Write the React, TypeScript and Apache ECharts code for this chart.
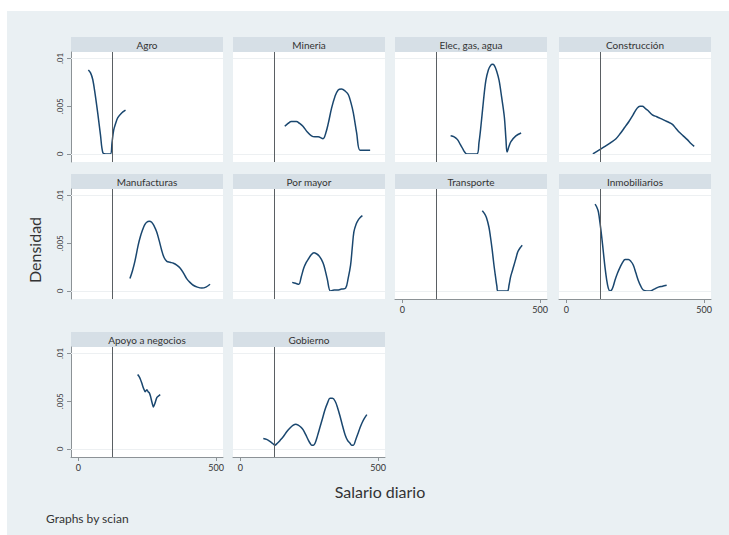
import React, { useEffect, useRef } from 'react';
import * as echarts from 'echarts';

// ---- Data (x = salario diario, y = densidad) ----
const panelNames = [
  'Agro', 'Mineria', 'Elec, gas, agua', 'Construcción',
  'Manufacturas', 'Por mayor', 'Transporte', 'Inmobiliarios',
  'Apoyo a negocios', 'Gobierno',
];

const agro = [[36,0.0088],[44,0.0085],[52,0.0078],[61,0.0062],[70,0.0043],[80,0.0020],[89,0.0001],[100,0],[116,0],[122,0.0012],[128,0.0025],[135,0.0032],[143,0.0038],[157,0.0043],[171,0.0046]];
const mineria = [[161,0.0029],[173,0.0032],[185,0.0034],[203,0.0034],[215,0.0032],[227,0.0029],[243,0.0023],[258,0.0019],[270,0.0018],[282,0.0018],[300,0.0016],[310,0.0022],[319,0.0032],[331,0.0048],[343,0.006],[355,0.0067],[367,0.0068],[380,0.0066],[392,0.0062],[401,0.0054],[410,0.0043],[422,0.0022],[434,0.0004],[450,0.0004],[471,0.0004]];
const elec = [[175,0.0019],[188,0.0018],[200,0.0015],[210,0.001],[218,0.0006],[226,0.0002],[234,0],[270,0],[278,0.0012],[285,0.0029],[294,0.0055],[303,0.0077],[312,0.0088],[321,0.0093],[327,0.0094],[333,0.0093],[342,0.0087],[351,0.0077],[360,0.006],[370,0.0039],[376,0.0015],[380,0.0002],[387,0.0008],[394,0.0013],[412,0.0019],[431,0.0022]];
const construccion = [[96,0],[118,0.0004],[140,0.0008],[161,0.0012],[180,0.0016],[197,0.0022],[212,0.0028],[227,0.0034],[242,0.0041],[257,0.0048],[267,0.005],[276,0.005],[285,0.0048],[294,0.0046],[312,0.0041],[328,0.0039],[343,0.0037],[365,0.0034],[385,0.0031],[397,0.0027],[409,0.0023],[424,0.0019],[439,0.0015],[452,0.0011],[464,0.0008]];
const manufacturas = [[187,0.0013],[196,0.0021],[205,0.0031],[217,0.0048],[225,0.0057],[233,0.0064],[240,0.0069],[248,0.0072],[257,0.0073],[266,0.0072],[275,0.0068],[284,0.0062],[293,0.0053],[302,0.0043],[311,0.0035],[321,0.0031],[333,0.003],[345,0.0029],[357,0.0027],[369,0.0024],[381,0.0019],[393,0.0013],[405,0.0009],[417,0.0006],[432,0.0004],[448,0.0003],[463,0.0004],[478,0.0007]];
const porMayor = [[188,0.0009],[200,0.0008],[212,0.0007],[221,0.0015],[230,0.0024],[239,0.003],[248,0.0034],[257,0.0038],[267,0.004],[276,0.0039],[285,0.0037],[294,0.0033],[303,0.0027],[315,0.0013],[327,0],[340,0.0001],[352,0.0001],[367,0.0002],[382,0.0003],[391,0.0013],[400,0.0027],[406,0.0045],[412,0.0062],[420,0.007],[427,0.0074],[435,0.0077],[443,0.0079]];
const transporte = [[290,0.0084],[298,0.0081],[305,0.0077],[314,0.0067],[320,0.0056],[326,0.0043],[332,0.0028],[338,0.0015],[343,0.0005],[347,0],[381,0],[387,0.0006],[393,0.0015],[399,0.0021],[405,0.0027],[412,0.0034],[419,0.0041],[427,0.0045],[435,0.0048]];
const inmobiliarios = [[104,0.0091],[110,0.0088],[116,0.0083],[122,0.0071],[128,0.0057],[134,0.0041],[140,0.0025],[146,0.0012],[152,0.0003],[158,0],[164,0.0001],[170,0.0005],[176,0.0011],[186,0.0019],[195,0.0025],[204,0.003],[213,0.0033],[225,0.0033],[234,0.0031],[243,0.0027],[252,0.0019],[261,0.0011],[270,0.0005],[279,0.0001],[292,0],[304,0],[319,0.0002],[334,0.0004],[349,0.0005],[364,0.0006]];
const apoyo = [[215,0.0078],[220,0.0076],[225,0.0073],[230,0.0069],[237,0.0063],[242,0.006],[249,0.0062],[253,0.006],[257,0.0059],[262,0.0055],[266,0.005],[272,0.0044],[278,0.0048],[285,0.0054],[297,0.0057]];
const gobierno = [[83,0.0011],[95,0.001],[107,0.0008],[116,0.0006],[125,0.0004],[134,0.0006],[144,0.0009],[156,0.0013],[168,0.0018],[180,0.0022],[192,0.0025],[201,0.0026],[210,0.0025],[219,0.0023],[228,0.002],[237,0.0015],[247,0.0009],[253,0.0006],[259,0.0004],[265,0.0004],[271,0.0006],[280,0.0014],[289,0.0023],[298,0.0032],[307,0.0041],[316,0.0048],[325,0.0053],[334,0.0053],[344,0.005],[353,0.0043],[362,0.0034],[371,0.0024],[380,0.0015],[389,0.0009],[398,0.0006],[404,0.0004],[410,0.0004],[419,0.001],[428,0.0017],[434,0.0022],[441,0.0027],[450,0.0032],[459,0.0036]];

const panelData = [agro, mineria, elec, construccion, manufacturas, porMayor, transporte, inmobiliarios, apoyo, gobierno];

const xTicks = [0, 500];
const yTicks = [0, 0.005, 0.01];
const yTickLabels = ['0', '.005', '.01'];
const minWage = 123.22;

// ---- Layout ----
const colLeft = [71, 233, 395, 559];
const rowTop = [52, 189, 347];
const PW = 152;
const PH = 110;
const STRIP = 15;
const X_MIN = -27, X_MAX = 525;
const Y_MIN = -0.00084, Y_MAX = 0.01068;

const BG = '#eaf0f3';
const STRIP_BG = '#d6dfe6';
const LINE = '#1a476f';
const AXIS = '#8c9296';
const FONT = 'Lato, "Open Sans", "Noto Sans", sans-serif';

function buildOption() {
  const grids: any[] = [];
  const xAxes: any[] = [];
  const yAxes: any[] = [];
  const series: any[] = [];
  const graphics: any[] = [
    { type: 'rect', shape: { x: 0, y: 0, width: 729, height: 11 }, style: { fill: '#ffffff' }, silent: true },
    { type: 'rect', shape: { x: 0, y: 0, width: 7, height: 535 }, style: { fill: '#ffffff' }, silent: true },
  ];

  panelData.forEach((d, i) => {
    const r = Math.floor(i / 4);
    const c = i % 4;
    const left = colLeft[c];
    const top = rowTop[r];
    const hasX = i >= 6;
    const hasY = c === 0;
    grids.push({ left, top, width: PW, height: PH, show: true, backgroundColor: '#ffffff', borderWidth: 0, containLabel: false });
    xAxes.push({
      gridIndex: i, type: 'value', min: X_MIN, max: X_MAX,
      axisLine: { show: hasX, onZero: false, lineStyle: { color: AXIS, width: 1 } },
      axisTick: { show: hasX, customValues: xTicks, length: 4, lineStyle: { color: AXIS } },
      axisLabel: { show: hasX, customValues: xTicks, fontSize: 9, color: '#333', margin: 6, fontFamily: FONT },
      splitLine: { show: false },
    });
    yAxes.push({
      gridIndex: i, type: 'value', min: Y_MIN, max: Y_MAX,
      axisLine: { show: hasY, onZero: false, lineStyle: { color: AXIS, width: 1 } },
      axisTick: { show: hasY, customValues: yTicks, length: 4, lineStyle: { color: AXIS } },
      axisLabel: {
        show: hasY, customValues: yTicks, rotate: 90, fontSize: 8, color: '#333', margin: 7, fontFamily: FONT,
        formatter: (v: number) => {
          const k = yTicks.findIndex((t) => Math.abs(t - v) < 1e-9);
          return k >= 0 ? yTickLabels[k] : '';
        },
      },
      splitLine: { show: false },
    });
    series.push({
      type: 'line', xAxisIndex: i, yAxisIndex: i, data: d,
      showSymbol: false, smooth: i === 8 ? 0.15 : 0.35,
      lineStyle: { color: LINE, width: 1.5 },
      silent: true, z: 3,
      markLine: {
        silent: true, symbol: 'none', label: { show: false },
        lineStyle: { type: 'solid', width: 1, color: '#edf0f2' },
        data: [
          ...yTicks.map((t) => ({ yAxis: t })),
          { xAxis: minWage, lineStyle: { type: 'solid', width: 1, color: '#5a5f63' } },
        ],
      },
    });
    graphics.push({
      type: 'rect', shape: { x: left, y: top - STRIP, width: PW, height: STRIP },
      style: { fill: STRIP_BG }, silent: true,
    });
    graphics.push({
      type: 'text', x: left + PW / 2, y: top - STRIP / 2 + 0.5,
      style: { text: panelNames[i], fill: '#333', font: `10px ${FONT}`, textAlign: 'center', textVerticalAlign: 'middle' },
      silent: true,
    });
  });

  graphics.push({
    type: 'text', x: 34, y: 250, rotation: Math.PI / 2,
    style: { text: 'Densidad', fill: '#333', font: `16px ${FONT}`, textAlign: 'center', textVerticalAlign: 'middle' },
    silent: true,
  });
  graphics.push({
    type: 'text', x: 380, y: 491,
    style: { text: 'Salario diario', fill: '#333', font: `16px ${FONT}`, textAlign: 'center', textVerticalAlign: 'middle' },
    silent: true,
  });
  graphics.push({
    type: 'text', x: 46, y: 518,
    style: { text: 'Graphs by scian', fill: '#333', font: `12px ${FONT}`, textAlign: 'left', textVerticalAlign: 'middle' },
    silent: true,
  });

  return {
    animation: false,
    backgroundColor: BG,
    textStyle: { fontFamily: FONT },
    grid: grids,
    xAxis: xAxes,
    yAxis: yAxes,
    series,
    graphic: graphics,
  };
}

export default function App() {
  const ref = useRef<HTMLDivElement>(null);
  useEffect(() => {
    document.body.style.margin = '0';
    const chart = echarts.init(ref.current!, null, { renderer: 'svg' });
    chart.setOption(buildOption() as any);
    return () => chart.dispose();
  }, []);
  return <div ref={ref} style={{ width: 729, height: 535 }} />;
}
